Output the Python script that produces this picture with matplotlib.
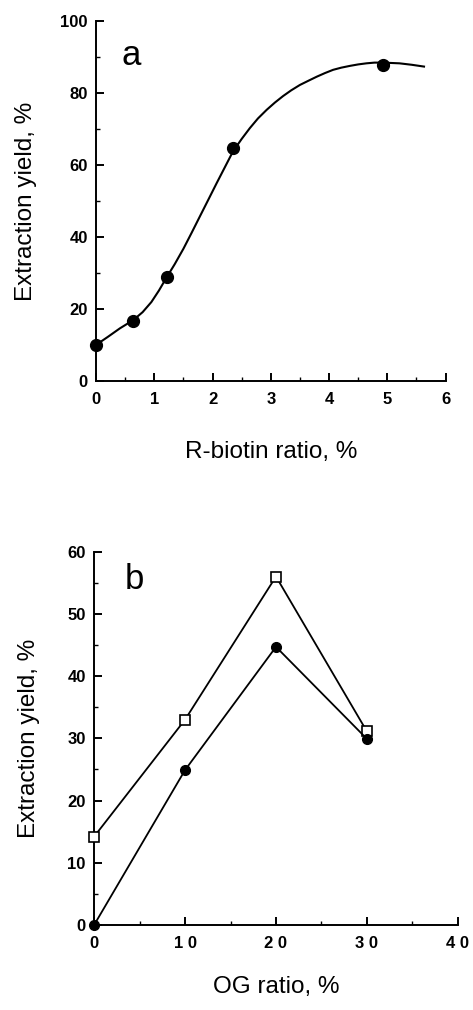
import matplotlib
matplotlib.use("Agg")
import matplotlib.pyplot as plt

plt.rcParams['font.family'] = ['Liberation Sans', 'DejaVu Sans']

# panel a: R-biotin ratio vs extraction yield
biotin_ratio = [0.0, 0.64, 1.21, 2.35, 4.93]
biotin_yield = [10.1, 16.7, 29.0, 64.7, 87.7]

# smooth trend line through panel a
curve_x = [0.0, 0.2, 0.41, 0.64, 0.8, 0.95, 1.08, 1.21, 1.35, 1.50, 1.64, 1.78, 1.93,
           2.07, 2.21, 2.35, 2.50, 2.64, 2.78, 2.93, 3.07, 3.21, 3.35, 3.50, 3.65,
           3.79, 3.93, 4.07, 4.21, 4.36, 4.50, 4.64, 4.78, 4.93, 5.07, 5.21, 5.42, 5.63]
curve_y = [10.1, 12.3, 14.7, 17.0, 19.2, 22.0, 25.2, 28.8, 32.5, 36.8, 41.2, 45.7, 50.5,
           55.0, 59.4, 63.8, 67.3, 70.3, 73.0, 75.4, 77.4, 79.2, 80.8, 82.3, 83.5,
           84.6, 85.6, 86.5, 87.1, 87.6, 88.0, 88.3, 88.5, 88.5, 88.4, 88.3, 87.9, 87.4]

# panel b: OG ratio vs extraction yield, two series
og_ratio = [0, 10, 20, 30]
og_yield_open = [14.2, 33.0, 56.0, 31.1]
og_yield_filled = [0.0, 24.9, 44.7, 29.9]
og_ticklabels = ["0", "1 0", "2 0", "3 0", "4 0"]

fig = plt.figure(figsize=(4.73, 10.10), dpi=100)


def style_axes(ax):
    ax.spines['top'].set_visible(False)
    ax.spines['right'].set_visible(False)
    for s in ['left', 'bottom']:
        ax.spines[s].set_linewidth(1.4)
    ax.tick_params(which='major', direction='in', length=6, width=1.4, pad=4)
    ax.tick_params(which='minor', direction='in', length=3, width=1.0)
    for lab in ax.get_xticklabels() + ax.get_yticklabels():
        lab.set_fontweight('bold')
        lab.set_fontsize(12)


# ---- a ----
ax1 = fig.add_axes([0.203, 0.6225, 0.739, 0.3565])
ax1.plot(curve_x, curve_y, color='black', lw=1.5, zorder=2)
ax1.plot(biotin_ratio, biotin_yield, 'o', color='black', ms=8.5, zorder=3, clip_on=False)
ax1.set_xlim(0, 6)
ax1.set_ylim(0, 100)
ax1.set_xticks(range(0, 7))
ax1.set_xticks([0.5, 1.5, 2.5, 3.5, 4.5, 5.5], minor=True)
ax1.set_yticks(range(0, 101, 20))
ax1.set_yticks(range(10, 100, 20), minor=True)
style_axes(ax1)
ax1.xaxis.set_tick_params(pad=8)
ax1.yaxis.set_tick_params(pad=6)
ax1.set_xlabel("R-biotin ratio, %", fontsize=17.5, labelpad=24)
ax1.set_ylabel("Extraction yield, %", fontsize=17.5, labelpad=17)
ax1.text(0.61, 90.6, "a", fontsize=25, ha='center', va='center')

# ---- b ----
ax2 = fig.add_axes([0.199, 0.0842, 0.769, 0.3696])
ax2.plot(og_ratio, og_yield_open, 's', ls='-', color='black', mfc='white', mec='black',
         ms=7, mew=1.2, lw=1.3, zorder=3, clip_on=False)
ax2.plot(og_ratio, og_yield_filled, 'o', ls='-', color='black', ms=7, lw=1.3,
         zorder=3, clip_on=False)
ax2.set_xlim(0, 40)
ax2.set_ylim(0, 60)
ax2.set_xticks(range(0, 41, 10))
ax2.set_xticklabels(og_ticklabels)
ax2.set_xticks(range(5, 40, 10), minor=True)
ax2.set_yticks(range(0, 61, 10))
ax2.set_yticks(range(5, 60, 10), minor=True)
style_axes(ax2)
ax2.xaxis.set_tick_params(pad=8)
ax2.yaxis.set_tick_params(pad=6)
ax2.set_xlabel("OG ratio, %", fontsize=17.5, labelpad=18)
ax2.set_ylabel("Extraction yield, %", fontsize=17.5, labelpad=20)
ax2.text(4.4, 55.5, "b", fontsize=25, ha='center', va='center')

fig.savefig("out.png", dpi=100)
